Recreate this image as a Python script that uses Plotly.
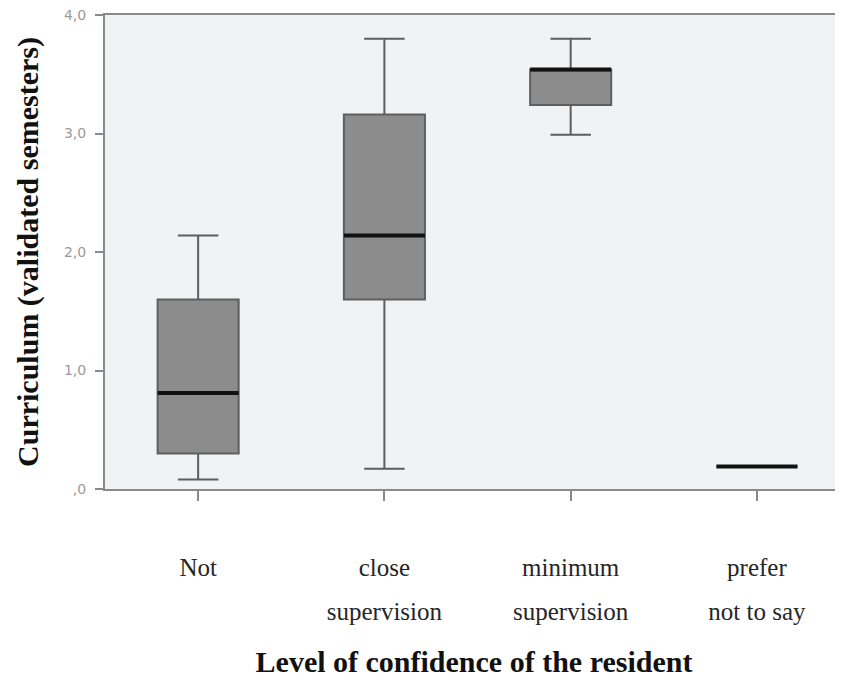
import plotly.graph_objects as go

# Categorías y etiquetas (dos renglones)
categorias = ["Not", "close supervision", "minimum supervision", "prefer not to say"]
etiqueta_linea1 = ["Not", "close", "minimum", "prefer"]
etiqueta_linea2 = ["", "supervision", "supervision", "not to say"]

# Estadísticos
minimo = [0.08, 0.17, 2.99, 0.19]
q1 = [0.30, 1.60, 3.24, 0.19]
mediana = [0.81, 2.14, 3.54, 0.19]
q3 = [1.60, 3.16, 3.54, 0.19]
maximo = [2.14, 3.80, 3.80, 0.19]

y_ticks = [0, 1, 2, 3, 4]
y_ticktext = [",0", "1,0", "2,0", "3,0", "4,0"]

posiciones = list(range(len(categorias)))
rango_x = [-0.5, 3.462]
ancho_caja = 0.435

fig = go.Figure()

# Cajas
fig.add_trace(go.Box(
    x=posiciones, q1=q1, median=mediana, q3=q3,
    lowerfence=minimo, upperfence=maximo,
    width=ancho_caja, whiskerwidth=0.5,
    fillcolor="#8c8c8c",
    line=dict(color="#5e5e5e", width=2),
    showlegend=False, hoverinfo="skip",
))

# Mediana en negro grueso (estilo SPSS)
fig.add_trace(go.Box(
    x=posiciones, q1=mediana, median=mediana, q3=mediana,
    lowerfence=mediana, upperfence=mediana,
    width=ancho_caja, whiskerwidth=0,
    fillcolor="rgba(0,0,0,0)",
    line=dict(color="#111111", width=4),
    showlegend=False, hoverinfo="skip",
    xaxis="x2",
))

fuente_serif = "Liberation Serif, Times New Roman, serif"

# la página deja 8 px de margen en el body: se compensa aquí
fig.update_layout(
    width=835, height=670,
    margin=dict(l=97, r=0, t=7, b=189),
    paper_bgcolor="white",
    plot_bgcolor="#f1f2f3",
    xaxis=dict(
        range=rango_x, tickvals=posiciones, ticktext=etiqueta_linea1,
        automargin=False,
        showgrid=False, zeroline=False,
        showline=True, mirror=True, linecolor="#8a8a8a", linewidth=2,
        ticks="outside", ticklen=10, tickwidth=2, tickcolor="#8a8a8a",
        tickfont=dict(family=fuente_serif, size=25, color="#262626"),
        ticklabelstandoff=45,
        title=dict(text="<b>Level of confidence of the resident</b>",
                   font=dict(family=fuente_serif, size=30, color="#111111"),
                   standoff=80),
    ),
    xaxis2=dict(
        range=rango_x, tickvals=posiciones, ticktext=etiqueta_linea2,
        overlaying="x", anchor="y", side="bottom", automargin=False,
        showgrid=False, zeroline=False, showline=False, ticks="",
        tickfont=dict(family=fuente_serif, size=25, color="#262626"),
        ticklabelstandoff=105,
    ),
    yaxis=dict(
        range=[0, 4], tickvals=y_ticks, ticktext=y_ticktext,
        automargin=False, ticklabeloverflow="allow",
        showgrid=False, zeroline=False,
        showline=True, linecolor="#8a8a8a", linewidth=2,
        ticks="outside", ticklen=8, tickwidth=2, tickcolor="#8a8a8a",
        tickfont=dict(family="DejaVu Sans, Verdana, sans-serif", size=14, color="#9a9a9a"),
        ticklabelstandoff=6,
        title=dict(text="<b>Curriculum (validated semesters)</b>",
                   font=dict(family=fuente_serif, size=30, color="#111111"),
                   standoff=16),
    ),
)

fig.write_html("out.html")
